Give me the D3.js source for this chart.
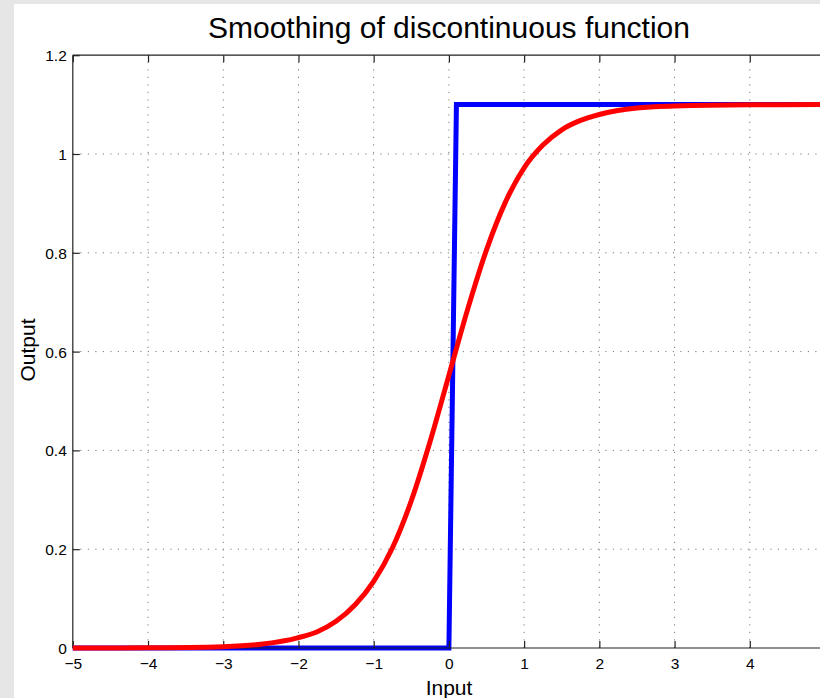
<!DOCTYPE html>
<html>
<head>
<meta charset="utf-8">
<script src="https://cdn.jsdelivr.net/npm/d3@7"></script>
<style>
  html, body { margin: 0; padding: 0; background: #e6e6e6; }
  svg { display: block; }
  text { font-family: "Liberation Sans", Arial, Helvetica, sans-serif; fill: #000; }
</style>
</head>
<body>
<svg id="chart" width="820" height="698"></svg>
<script>
// ---- data ----
const title = "Smoothing of discontinuous function";
const xLabel = "Input";
const yLabel = "Output";
const xTicks = [-5, -4, -3, -2, -1, 0, 1, 2, 3, 4, 5];
const yTicks = [0, 0.2, 0.4, 0.6, 0.8, 1, 1.2];

// discontinuous (step) function, blue
const stepX = [-5, 0, 0.1, 5];
const stepY = [0, 0, 1.1, 1.1];

// smoothed function, red
const smoothX = [-5, -4, -3, -2.5, -2, -1.75, -1.5, -1.25, -1, -0.75, -0.5, -0.25, 0, 0.25, 0.5, 0.75, 1, 1.25, 1.5, 1.75, 2, 2.5, 3, 4, 5];
const smoothY = [0.0000, 0.0004, 0.0027, 0.0074, 0.021, 0.033, 0.054, 0.087, 0.135, 0.203, 0.298, 0.418, 0.552, 0.686, 0.806, 0.902, 0.972, 1.018, 1.049, 1.068, 1.080, 1.093, 1.097, 1.0996, 1.1];

// ---- layout ----
const svg = d3.select("#chart");
svg.append("rect").attr("x", 14).attr("y", 4).attr("width", 806).attr("height", 694).attr("fill", "#ffffff");

const padL = 72.8, padR = 825, padT = 55.2, padB = 648;
const x = d3.scaleLinear().domain([-5, 5]).range([padL, padR]);
const y = d3.scaleLinear().domain([0, 1.2]).range([padB, padT]);

const plot = svg.append("g");

// grid
const grid = plot.append("g").attr("stroke", "#7a7a7a").attr("stroke-width", 1).attr("stroke-dasharray", "1.2,6.3");
grid.selectAll("line.vx").data(xTicks.slice(1)).join("line")
  .attr("x1", d => x(d)).attr("x2", d => x(d))
  .attr("y1", padB).attr("y2", padT);
grid.selectAll("line.hy").data(yTicks.slice(1, -1)).join("line")
  .attr("y1", d => y(d)).attr("y2", d => y(d))
  .attr("x1", padL).attr("x2", padR);

// axes
const fmt = d3.format("~g");
const axB = d3.axisBottom(x).tickValues(xTicks).tickFormat(fmt).tickSize(-7).tickPadding(10);
const axT = d3.axisTop(x).tickValues(xTicks).tickFormat("").tickSize(-7);
const axL = d3.axisLeft(y).tickValues(yTicks).tickFormat(fmt).tickSize(-7).tickPadding(6);

function styleAxis(g) {
  g.select(".domain").attr("stroke", "#222").attr("stroke-width", 1.2);
  g.selectAll(".tick line").attr("stroke", "#222").attr("stroke-width", 1.2);
  g.selectAll(".tick text").attr("font-size", 15.5).attr("fill", "#000")
    .attr("font-family", "'Liberation Sans', Arial, Helvetica, sans-serif");
}

const gT = plot.append("g").attr("transform", `translate(0,${padT})`).call(axT).call(styleAxis);
gT.select(".domain").attr("d", `M${padL},0H${padR}`);
const gL = plot.append("g").attr("transform", `translate(${padL},0)`).call(axL).call(styleAxis);
gL.select(".domain").attr("d", `M0,${padB}V${padT}`);
gL.selectAll(".tick text").attr("dy", "0.36em");

// lines
const stepData = stepX.map((v, i) => [v, stepY[i]]);
const smoothData = smoothX.map((v, i) => [v, smoothY[i]]);

plot.append("path").datum(stepData)
  .attr("d", d3.line().x(d => x(d[0])).y(d => y(d[1])).curve(d3.curveLinear))
  .attr("fill", "none").attr("stroke", "#0000ff").attr("stroke-width", 5)
  .attr("stroke-linejoin", "miter");

const gB = plot.append("g").attr("transform", `translate(0,${padB})`).call(axB).call(styleAxis);
gB.select(".domain").attr("d", `M${padL},0H${padR}`);
gB.selectAll(".tick text").attr("dy", "0.71em");

plot.append("path").datum(smoothData)
  .attr("d", d3.line().x(d => x(d[0])).y(d => y(d[1])).curve(d3.curveMonotoneX))
  .attr("fill", "none").attr("stroke", "#ff0000").attr("stroke-width", 5)
  .attr("stroke-linejoin", "round");

// labels
svg.append("text").attr("x", 449).attr("y", 38).attr("text-anchor", "middle")
  .attr("font-size", 30).text(title);
svg.append("text").attr("x", 449).attr("y", 695).attr("text-anchor", "middle")
  .attr("font-size", 21).text(xLabel);
svg.append("text").attr("transform", "translate(35,350) rotate(-90)").attr("text-anchor", "middle")
  .attr("font-size", 21).text(yLabel);
</script>
</body>
</html>
